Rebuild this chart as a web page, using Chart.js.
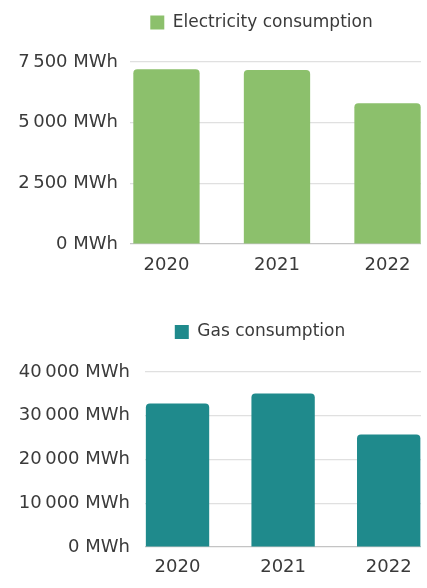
<!DOCTYPE html>
<html><head><meta charset="utf-8">
<script src="https://cdn.jsdelivr.net/npm/chart.js@4/dist/chart.umd.min.js"></script>
<style>
html,body{margin:0;padding:0;background:#fff;overflow:hidden;width:427px;height:588px;}
.box{position:absolute;left:0;width:427px;}
#b1{top:0;height:290px;}
#b2{top:300px;height:288px;}
</style></head><body>
<div class="box" id="b1"><canvas id="c1"></canvas></div>
<div class="box" id="b2"><canvas id="c2"></canvas></div>
<script>
const years = ['2020', '2021', '2022'];
const electricity = [7200, 7170, 5800];
const gas = [32800, 35100, 25700];
const elecTicks = [0, 2500, 5000, 7500];
const gasTicks = [0, 10000, 20000, 30000, 40000];

const FONT = "'DejaVu Sans', sans-serif";
const TEXT = '#3a3a3a';
Chart.defaults.font.family = FONT;
Chart.defaults.color = TEXT;

function fmt(v) {
  return String(v).replace(/\B(?=(\d{3})+(?!\d))/g, '\u202F') + ' MWh';
}

const legendShift = {
  id: 'legendShift',
  afterLayout(chart, args, opts) {
    const l = chart.legend;
    if (!l || opts.center == null) return;
    const w = l.right - l.left;
    l.left = opts.center - w / 2;
    l.right = opts.center + w / 2;
  }
};

function make(id, label, values, color, ticks, o) {
  new Chart(document.getElementById(id), {
    type: 'bar',
    data: {
      datasets: [{
        label: label,
        data: values.map((v, i) => ({ x: i, y: v })),
        backgroundColor: color,
        borderRadius: 4,
        borderSkipped: 'start',
        barPercentage: 0.6,
        categoryPercentage: 1
      }]
    },
    options: {
      responsive: true,
      maintainAspectRatio: false,
      animation: false,
      layout: { padding: { top: o.padTop, right: 6, left: 0, bottom: 0 } },
      plugins: {
        legend: {
          fullSize: false,
          labels: { boxWidth: 14, boxHeight: 14, padding: 10, font: { size: 17 }, color: TEXT }
        },
        legendShift: { center: o.legendCenter },
        tooltip: { enabled: false }
      },
      scales: {
        x: {
          type: 'linear',
          offset: false,
          min: o.xMin, max: o.xMax,
          grid: { display: false, drawTicks: false, offset: false },
          border: { display: false },
          afterBuildTicks: s => { s.ticks = years.map((_, i) => ({ value: i })); },
          afterFit: s => { s.height = o.xHeight; },
          ticks: {
            padding: o.xPad,
            maxRotation: 0,
            autoSkip: false,
            font: { size: 18 },
            color: TEXT,
            callback: v => years[v]
          }
        },
        y: {
          min: 0, max: o.yMax,
          grid: {
            drawTicks: false,
            color: c => (c.tick && c.tick.value === 0) ? '#c4c4c4' : '#e0e0e0',
            lineWidth: 1.2
          },
          border: { display: false },
          afterBuildTicks: s => { s.ticks = ticks.map(v => ({ value: v })); },
          afterFit: s => { s.width = o.yWidth; },
          ticks: { padding: o.yPad, font: { size: 18 }, color: TEXT, callback: v => fmt(v) }
        }
      }
    },
    plugins: [legendShift]
  });
}

make('c1', 'Electricity consumption', electricity, '#8cc06c', elecTicks, {
  padTop: 4, legendCenter: 261.5, xMin: -0.33, xMax: 2.303, xHeight: 46, xPad: 11,
  yMax: 8365, yWidth: 130, yPad: 12
});
make('c2', 'Gas consumption', gas, '#1f8a8c', gasTicks, {
  padTop: 13.5, legendCenter: 260, xMin: -0.308, xMax: 2.306, xHeight: 41, xPad: 10,
  yMax: 44914, yWidth: 145, yPad: 15
});
</script>
</body></html>
